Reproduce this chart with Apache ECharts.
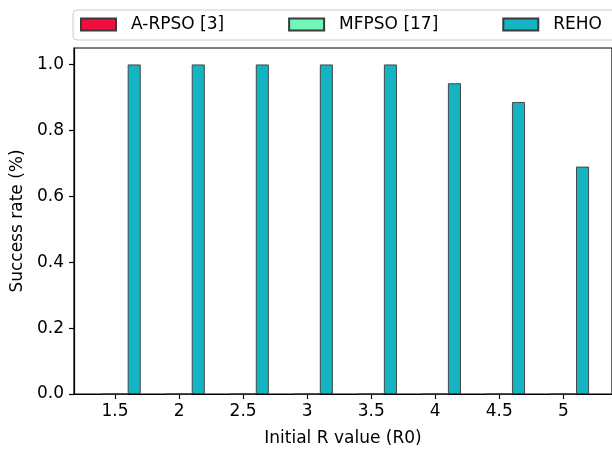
<!DOCTYPE html>
<html>
<head>
<meta charset="utf-8">
<script src="https://cdn.jsdelivr.net/npm/echarts@6/dist/echarts.min.js"></script>
<style>
  html, body { margin: 0; padding: 0; background: #fff; }
  #chart { width: 612px; height: 452px; }
</style>
</head>
<body>
<div id="chart"></div>
<script>
// Initial R value categories and success rates per method
const categories = ['1.5', '2', '2.5', '3', '3.5', '4', '4.5', '5'];
const aRpso = [0, 0, 0, 0, 0, 0, 0, 0];
const mfpso = [0, 0, 0, 0, 0, 0, 0, 0];
const reho = [1.0, 1.0, 1.0, 1.0, 1.0, 0.943, 0.886, 0.69];
const yTicks = [0, 0.2, 0.4, 0.6, 0.8, 1.0];

const FONT = 'DejaVu Sans';
const tickIdx = categories.map((c, i) => i);

// bars sit side by side; each series is shifted along the category position
function barSeries(name, values, shift, color) {
  return {
    name: name,
    type: 'bar',
    barWidth: 13,
    barGap: '-100%',
    itemStyle: { color: color, borderColor: '#3a3a3a', borderWidth: 0.9 },
    data: values.map((v, i) => [i + shift, v])
  };
}

const chart = echarts.init(document.getElementById('chart'));
chart.setOption({
  animation: false,
  backgroundColor: '#fff',
  textStyle: { fontFamily: FONT },
  legend: {
    data: ['A-RPSO [3]', 'MFPSO [17]', 'REHO'],
    left: 73,
    top: 10,
    width: 580,
    padding: [6, 40, 7, 7],
    itemGap: 64,
    itemWidth: 35,
    itemHeight: 12,
    icon: 'rect',
    backgroundColor: '#fff',
    borderColor: '#cccccc',
    borderWidth: 1,
    borderRadius: 4,
    textStyle: { fontFamily: FONT, fontSize: 17, color: '#000', padding: [0, 0, 0, 10] }
  },
  grid: {
    left: 74, right: -4, top: 48, bottom: 52,
    show: true, borderColor: '#000', borderWidth: 1.2, backgroundColor: 'transparent'
  },
  xAxis: {
    type: 'value',
    min: -0.64,
    max: 7.76,
    name: 'Initial R value (R0)',
    nameLocation: 'middle',
    nameGap: 36,
    nameTextStyle: { fontFamily: FONT, fontSize: 17, color: '#000' },
    splitLine: { show: false },
    axisLine: { show: true, onZero: false, lineStyle: { color: '#000', width: 1.2 } },
    axisTick: { show: true, length: 5, customValues: tickIdx, lineStyle: { color: '#000', width: 1.2 } },
    axisLabel: {
      customValues: tickIdx,
      margin: 9,
      fontFamily: FONT, fontSize: 17, color: '#000',
      formatter: v => categories[Math.round(v)]
    }
  },
  yAxis: {
    type: 'value',
    min: 0,
    max: 1.05,
    name: 'Success rate (%)',
    nameLocation: 'middle',
    nameGap: 43,
    nameTextStyle: { fontFamily: FONT, fontSize: 17, color: '#000' },
    splitLine: { show: false },
    axisLine: { show: true, onZero: false, lineStyle: { color: '#000', width: 1.2 } },
    axisTick: { show: true, length: 5, customValues: yTicks, lineStyle: { color: '#000', width: 1.2 } },
    axisLabel: {
      customValues: yTicks,
      margin: 10,
      fontFamily: FONT, fontSize: 17, color: '#000',
      formatter: v => v.toFixed(1)
    }
  },
  series: [
    barSeries('A-RPSO [3]', aRpso, -0.1, '#ee0f3f'),
    barSeries('MFPSO [17]', mfpso, 0.1, '#70f7b8'),
    barSeries('REHO', reho, 0.3, '#15b4c3')
  ]
});
</script>
</body>
</html>
